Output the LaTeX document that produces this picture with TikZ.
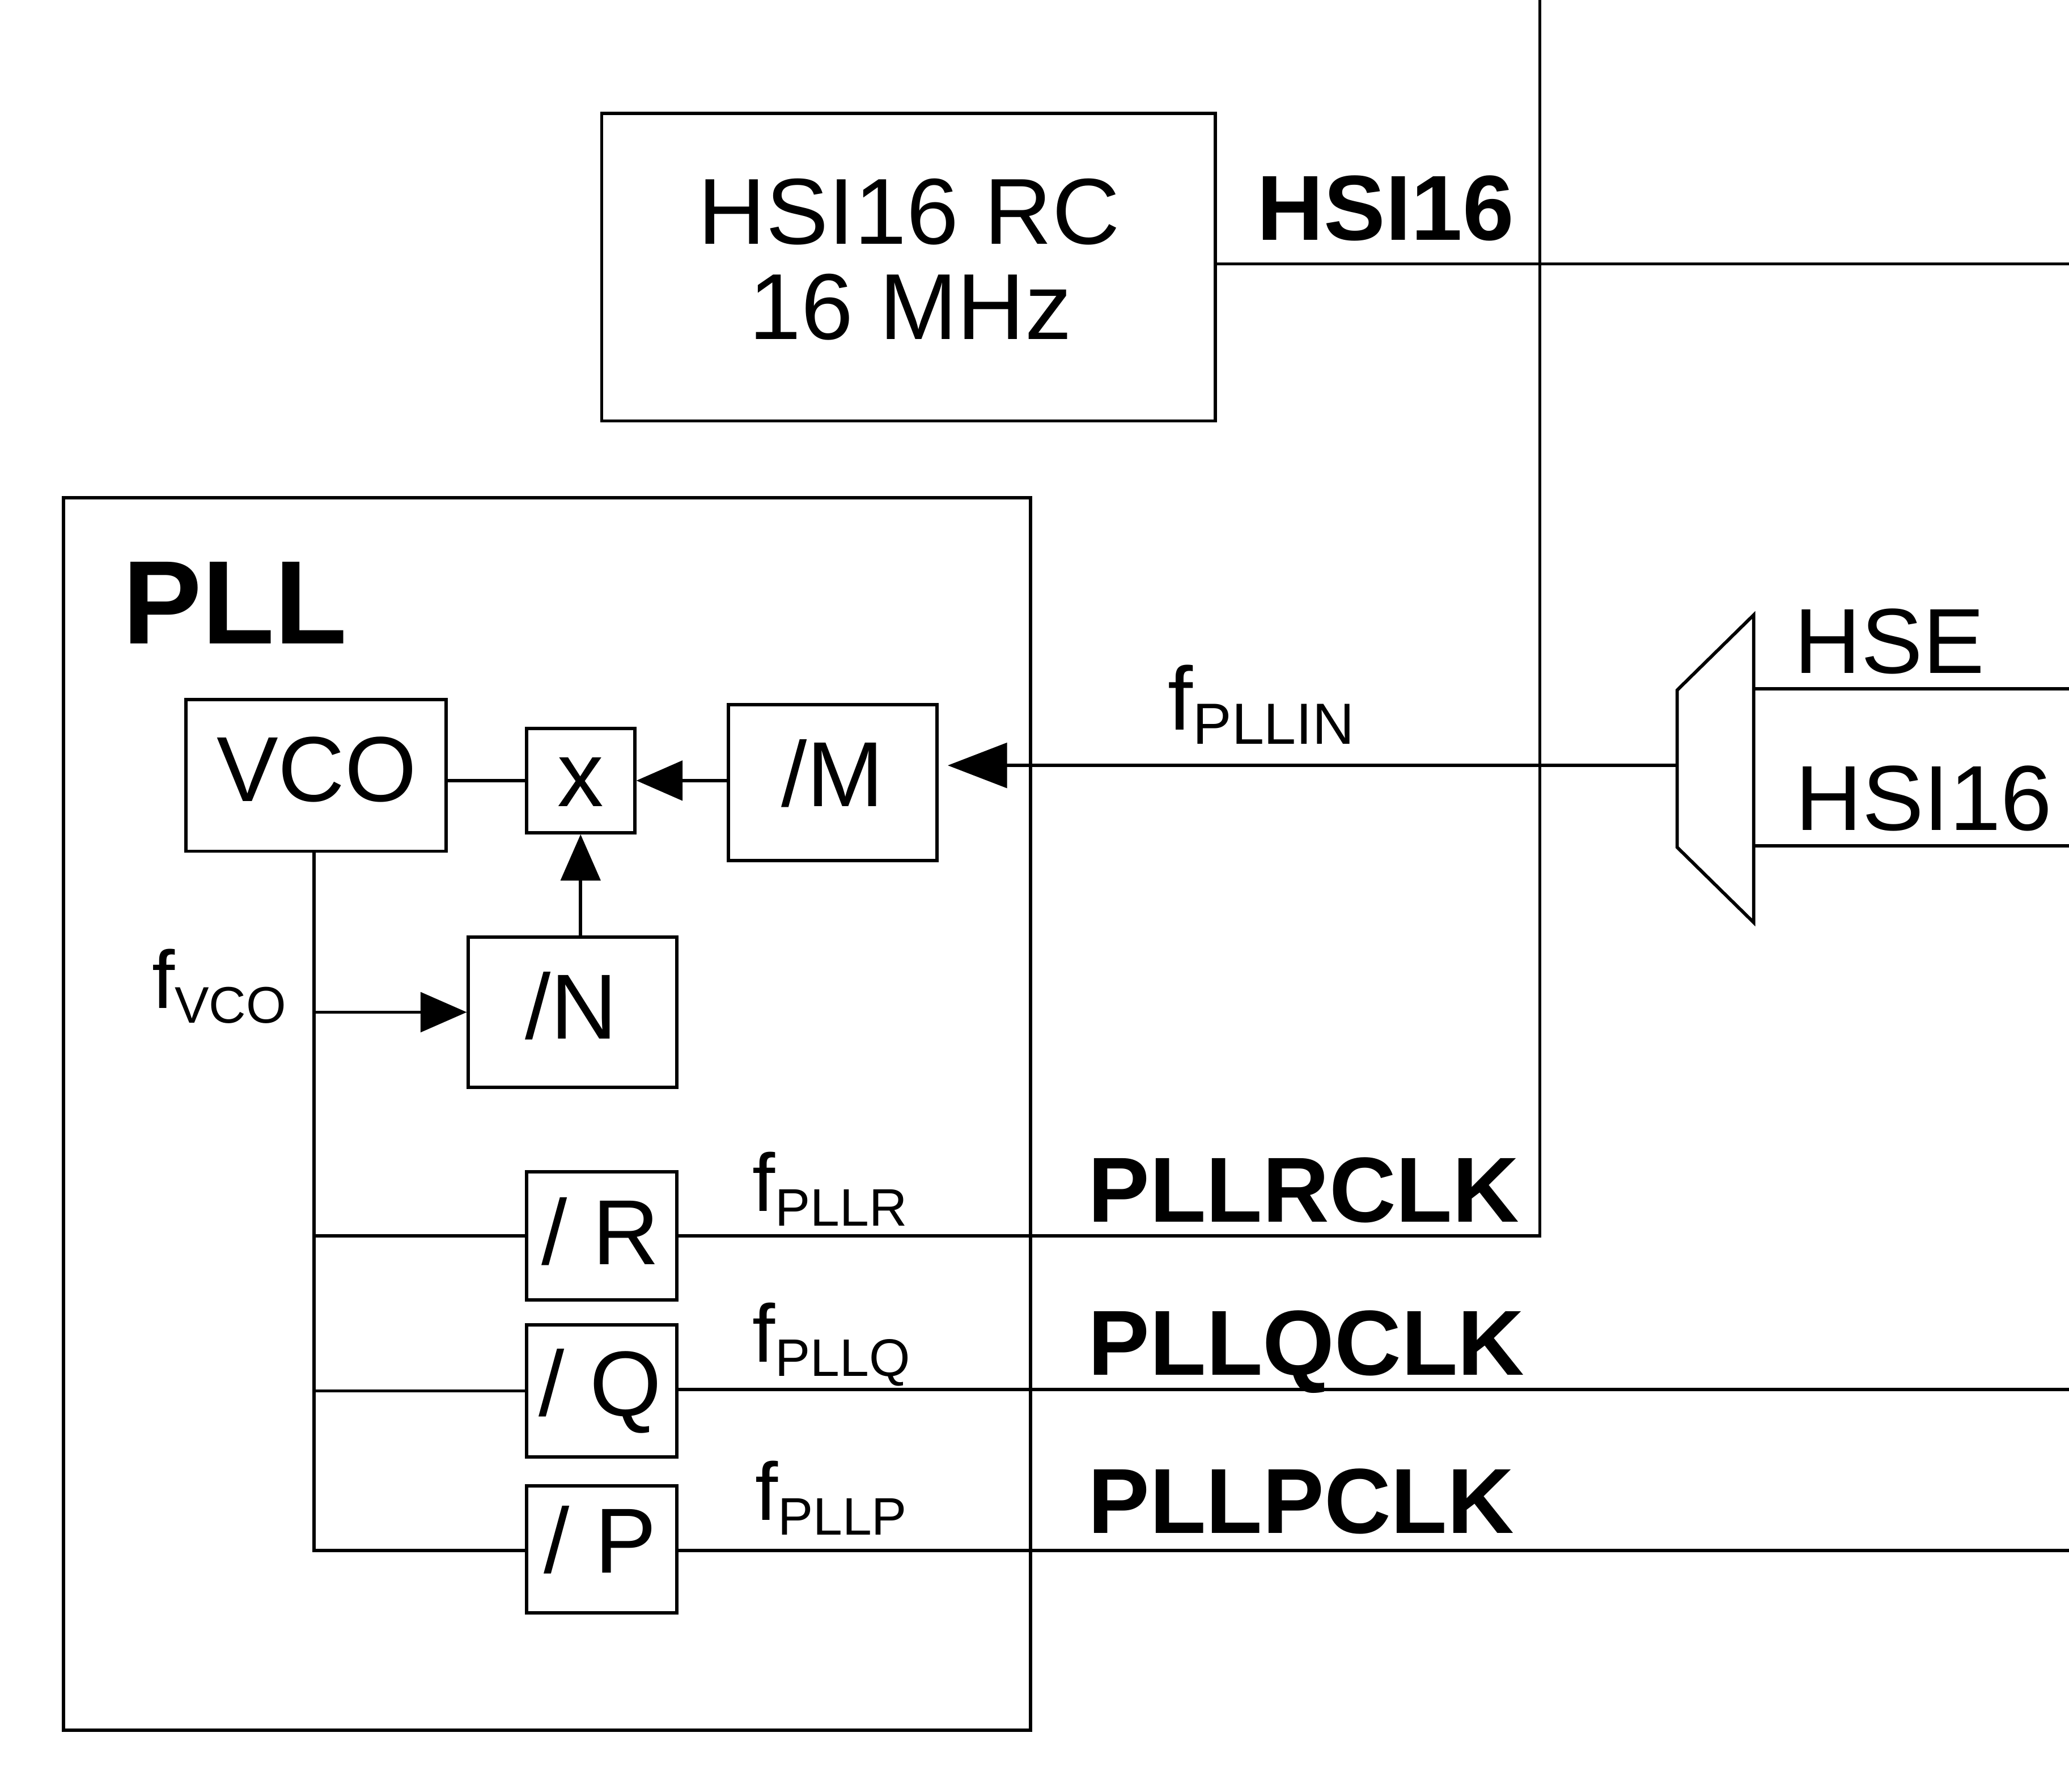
\documentclass[tikz,border=0pt]{standalone}
\usepackage{fontspec}
\setmainfont{Liberation Sans}
\usetikzlibrary{arrows.meta}
\newcommand{\fsz}[1]{\fontsize{#1}{#1}\selectfont}
\newcommand{\fsig}[3]{{\fsz{#1}f}\raisebox{-11pt}{\fsz{#2}#3}}
\begin{document}
\begin{tikzpicture}[x=1pt,y=-1pt,line width=2.5pt,
  blk/.style={draw,inner sep=0pt,line width=2.5pt},
  txt/.style={inner sep=0pt,anchor=base,font={\fsz{70}}},
  btxt/.style={inner sep=0pt,anchor=base,font={\fsz{70}\bfseries}},
  ftxt/.style={inner sep=0pt,anchor=base west},
  arr/.style={-{Triangle[length=35pt,width=30pt]}},
  bigarr/.style={-{Triangle[length=45pt,width=34pt]}}]
\useasboundingbox (0,0) rectangle (1568,1357.5);

% boxes
\node[blk,minimum width=465pt,minimum height=233pt] (hsi) at (688.5,202.5) {};
\node[blk,minimum width=733pt,minimum height=934pt] (pll) at (414.5,844) {};
\node[blk,minimum width=197pt,minimum height=115pt] (vco) at (239.5,587.5) {};
\node[blk,minimum width=82pt,minimum height=79pt] (mul) at (440,591.5) {};
\node[blk,minimum width=158pt,minimum height=118pt] (divm) at (631,593) {};
\node[blk,minimum width=158pt,minimum height=114pt] (divn) at (434,767) {};
\node[blk,minimum width=114pt,minimum height=97pt] (divr) at (456,936.5) {};
\node[blk,minimum width=114pt,minimum height=100pt] (divq) at (456,1054) {};
\node[blk,minimum width=114pt,minimum height=96pt] (divp) at (456,1174) {};

% texts in boxes
\node[txt,font={\fsz{71}}] (thsi1) at (689,185) {HSI16 RC};
\node[txt,font={\fsz{71}}] (thsi2) at (690,257) {16 MHz};
\node[inner sep=0pt,anchor=base,font={\fsz{90}\bfseries}] (tpll) at (178,488) {PLL};
\node[txt] (tvco) at (240,607) {VCO};
\node[txt] (tmul) at (440,611) {x};
\node[txt] (tm) at (631,611) {/M};
\node[txt] (tn) at (433,787) {/N};
\node[txt] (tr) at (455,958) {/ R};
\node[txt] (tq) at (455,1073) {/ Q};
\node[txt] (tp) at (455,1192) {/ P};

% outside labels
\node[btxt] (lhsi) at (1050,182) {HSI16};
\node[txt] (lhse) at (1432,510) {HSE};
\node[txt] (lhsi2) at (1458,629) {HSI16};
\node[btxt] (lrclk) at (988,926) {PLLRCLK};
\node[btxt] (lqclk) at (990,1042) {PLLQCLK};
\node[btxt] (lpclk) at (986,1162) {PLLPCLK};
\node[ftxt] (fin) at (884,553) {\fsig{68}{44}{PLLIN}};
\node[ftxt] (fvco) at (114,764) {\fsig{62}{39}{VCO}};
\node[ftxt] (fr) at (569,918) {\fsig{62}{40}{PLLR}};
\node[ftxt] (fq) at (569,1032) {\fsig{62}{40}{PLLQ}};
\node[ftxt] (fp) at (571,1152) {\fsig{62}{40}{PLLP}};

% mux
\coordinate (muxin) at (1271,580);
\coordinate (hsein) at (1329,522);
\coordinate (hsiin) at (1329,641);
\draw (1271,523) -- (1329,466) -- (1329,699) -- (1271,642) -- cycle;

% edge coordinates
\coordinate (etop) at (1167,0);
\coordinate (ehsi) at (1568,200);
\coordinate (ehse) at (1568,522);
\coordinate (ehsi2) at (1568,641);
\coordinate (eq) at (1568,1053);
\coordinate (ep) at (1568,1175);
\coordinate (vbot) at (238,1175);

% connectors
\draw (hsi.east |- ehsi) -- (ehsi);
\draw (hsein) -- (ehse);
\draw (hsiin) -- (ehsi2);
\draw[bigarr,shorten >=7pt] (muxin) -- (divm.east |- muxin);
\draw (vco.east |- mul) -- (mul.west);
\draw[arr] (divm.west |- mul) -- (mul.east);
\draw[arr] (mul.south |- divn.north) -- (mul.south);
\draw (vco.south -| vbot) -- (vbot) -- (divp.west |- vbot);
\draw[arr] (vbot |- divn) -- (divn.west);
\draw (vbot |- divr) -- (divr.west);
\draw (vbot |- divq.west) -- (divq.west);
\draw (divr.east) -| (etop);
\draw (divq.east |- eq) -- (eq);
\draw (divp.east |- ep) -- (ep);
\end{tikzpicture}
\end{document}
